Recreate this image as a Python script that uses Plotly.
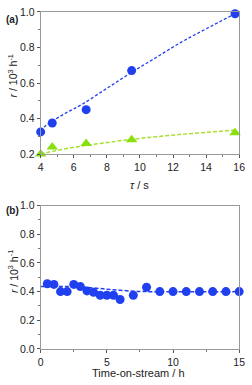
import plotly.graph_objects as go

# Panel (a) data
tau = [4.0, 4.7, 6.75, 9.5, 15.75]
r_blue = [0.325, 0.375, 0.45, 0.67, 0.99]
r_green = [0.20, 0.24, 0.26, 0.28, 0.32]
fit_tau = [4.0, 4.3, 4.7, 5.5, 6.5, 8.0, 9.5, 11.0, 12.5, 14.0, 15.75]
fit_blue = [0.33, 0.36, 0.385, 0.43, 0.48, 0.57, 0.66, 0.745, 0.83, 0.905, 0.99]
fit_green = [0.20, 0.207, 0.215, 0.23, 0.245, 0.265, 0.283, 0.298, 0.311, 0.322, 0.335]

# Panel (b) data
tos = [0.5, 1, 1.5, 2, 2.5, 3, 3.5, 4, 4.5, 5, 5.5, 6, 7, 8, 9, 10, 11, 12, 13, 14, 15]
r_tos = [0.455, 0.45, 0.40, 0.40, 0.45, 0.435, 0.405, 0.395, 0.375, 0.375, 0.375, 0.345,
         0.375, 0.43, 0.40, 0.40, 0.40, 0.40, 0.40, 0.40, 0.40]
fit_tos = [0, 2.5, 4, 5.5, 7, 8, 15]
fit_r_tos = [0.435, 0.435, 0.425, 0.413, 0.403, 0.40, 0.40]

BLUE = "#2040f0"
GREEN = "#88e010"
FONT = "Liberation Sans, Arial, sans-serif"

fig = go.Figure()
fig.add_trace(go.Scatter(x=fit_tau, y=fit_blue, mode="lines", line=dict(color=BLUE, dash="3px,2px", width=1.3, shape="spline"), xaxis="x", yaxis="y"))
fig.add_trace(go.Scatter(x=fit_tau, y=fit_green, mode="lines", line=dict(color="#a8e030", dash="4px,2px", width=1.5, shape="spline"), xaxis="x", yaxis="y"))
fig.add_trace(go.Scatter(x=tau, y=r_blue, mode="markers", marker=dict(color=BLUE, size=9, symbol="circle"), xaxis="x", yaxis="y", cliponaxis=False))
fig.add_trace(go.Scatter(x=tau, y=r_green, mode="markers", marker=dict(color=GREEN, size=10, symbol="triangle-up"), xaxis="x", yaxis="y", cliponaxis=False))

fig.add_trace(go.Scatter(x=fit_tos, y=fit_r_tos, mode="lines", line=dict(color=BLUE, dash="4px,2px", width=1.5, shape="spline"), xaxis="x2", yaxis="y2"))
fig.add_trace(go.Scatter(x=tos, y=r_tos, mode="markers", marker=dict(color=BLUE, size=9), xaxis="x2", yaxis="y2", cliponaxis=False))

axis_common = dict(showline=True, linecolor="#999999", linewidth=1, mirror=True, ticks="outside",
                   ticklen=3, tickcolor="#555555", showgrid=False, zeroline=False,
                   tickfont=dict(family=FONT, size=10.5, color="#222222"))
minor = dict(ticks="outside", ticklen=2, tickcolor="#777777", showgrid=False)

fig.update_layout(
    width=252, height=385, margin=dict(l=0, r=0, t=0, b=0),
    paper_bgcolor="white", plot_bgcolor="white", showlegend=False,
    font=dict(family=FONT, color="#222222"),
    xaxis=dict(domain=[0.155, 0.972], anchor="y", range=[4, 16], tickvals=[4, 6, 8, 10, 12, 14, 16],
               minor=dict(dtick=1, **minor), **axis_common),
    yaxis=dict(domain=[0.603, 0.984], anchor="x", range=[0.2, 1.0], tickvals=[0.2, 0.4, 0.6, 0.8, 1.0],
               tickformat=".1f", minor=dict(dtick=0.1, **minor), **axis_common),
    xaxis2=dict(domain=[0.155, 0.972], anchor="y2", range=[0, 15], tickvals=[0, 5, 10, 15],
                minor=dict(dtick=2.5, **minor), **axis_common),
    yaxis2=dict(domain=[0.0805, 0.465], anchor="x2", range=[0, 1.0], tickvals=[0, 0.2, 0.4, 0.6, 0.8, 1.0],
                tickformat=".1f", minor=dict(dtick=0.1, **minor), **axis_common),
)

ann = [
    dict(text="<b>(a)</b>", x=1, y=14, xanchor="left", size=10),
    dict(text="<b>(b)</b>", x=1, y=211, xanchor="left", size=10),
    dict(text="<i>τ</i> / s", x=142, y=185, xanchor="center", size=11),
    dict(text="Time-on-stream / h", x=141, y=379, xanchor="center", size=11),
    dict(text="<i>r</i> / 10<sup>3</sup> h<sup>-1</sup>", x=10, y=72, xanchor="center", textangle=-90, size=10.5),
    dict(text="<i>r</i> / 10<sup>3</sup> h<sup>-1</sup>", x=10, y=274, xanchor="center", textangle=-90, size=10.5),
]
for a in ann:
    fig.add_annotation(text=a["text"], x=a["x"] / 252, y=1 - a["y"] / 385, xref="paper", yref="paper",
                       xanchor=a["xanchor"], yanchor="middle", showarrow=False,
                       textangle=a.get("textangle", 0), font=dict(family=FONT, size=a["size"], color="#222222"))

fig.write_html("out.html", config={"displayModeBar": False},
               post_script="document.body.style.margin='0';document.body.style.overflow='hidden';")
